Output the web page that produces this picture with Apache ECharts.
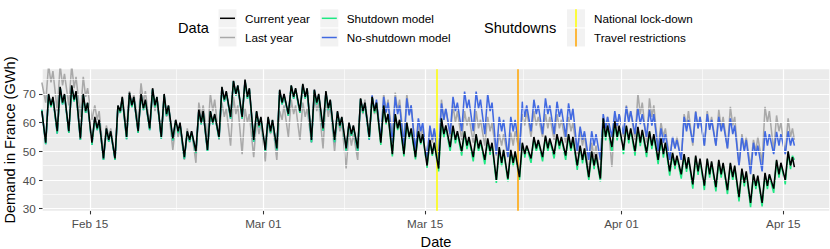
<!DOCTYPE html>
<html>
<head>
<meta charset="utf-8">
<script src="https://cdn.jsdelivr.net/npm/echarts@6/dist/echarts.min.js"></script>
<style>
html,body{margin:0;padding:0;background:#fff;}
#c{width:830px;height:249px;}
</style>
</head>
<body>
<div id="c"></div>
<script>
// ---------- data ----------
const tickLabels = ['Feb 15', 'Mar 01', 'Mar 15', 'Apr 01', 'Apr 15'];
const tickDates = [[2020, 1, 15], [2020, 2, 1], [2020, 2, 15], [2020, 3, 1], [2020, 3, 15]];
const yTickLabels = [30, 40, 50, 60, 70];
const eventNames = ['National lock-down', 'Travel restrictions'];
const eventDates = [[2020, 2, 16], [2020, 2, 23]];
// sample times: Feb 10 20:00, then each day Feb 11..Apr 15 at 04h (night low), 10h (morning peak),
// 15h (afternoon dip), 19h (evening peak), then Apr 15 23:00
const firstDay = [2020, 1, 11];
const dayCount = 65;
const sampleHours = [4, 10, 15, 19];

const currentYear = [64,
  53,70,66,69, 57,72.5,67,70, 57,73,68,71, 54.5,70,64,67,                 // Feb 11-14
  53,62,58,61, 47.5,58,54,57, 47.5,66,64,69, 55,70.5,66,69, 57,70,65,68,  // Feb 15-19
  58,72,66,69, 55,70,63,66, 54.5,61,57,60, 48,57,54,57, 50,64.5,60,64,    // Feb 20-24
  50.5,64,60,63, 55,72.5,68,71, 62,74.6,70,73, 62,75,69,72, 54,64,59,62,  // Feb 25-29
  50.5,62,57,61, 51,71.5,67,70, 63,73,69,72, 64,73.5,69,72,               // Mar 1-4
  54,71.5,67,70, 58,71,65,68, 54,64,59,62, 51,60,56,59, 51,68.5,64,67,    // Mar 5-9
  55,69,64,67, 53,66,60,63, 49,63,58,61, 49,60,55,58, 48,57,53,56,        // Mar 10-14
  45,54,49,53, 44,61.5,56,59, 51.5,59,54,57, 50,57,52,55, 48,56,51,54,    // Mar 15-19
  47,54.5,50,53, 40,51.5,46,50.5, 40.5,50.5,46,50, 41,53,49,52, 47.5,55,51,54, // Mar 20-24
  48,55.5,51,54.5, 49,56,52,55, 48.5,56,51,55, 45,52,47,51, 41,50,45,49,  // Mar 25-29
  40.5,61.5,55,59, 51.5,60.5,55,59,                                       // Mar 30-31
  50.5,59,54,58, 50,58.5,53,57.5, 49.5,57,52,56, 47,54.5,49,53,           // Apr 1-4
  43,49.5,45,48.5, 42,49,44,48, 38.5,48.5,43,47.5, 38,47.5,42,46.5, 37.5,47,42,46, // Apr 5-9
  36.5,46,41,45, 34,44,39,43, 32,42,38,41.5, 32,42.5,38,42, 37,47,42,46,  // Apr 10-14
  40,50,45,48,                                                            // Apr 15
  44.5];

const lastYear = [74,
  67,80,74,78, 64,80,73,77, 66,80,72,76, 62,76,69,72,
  61,66,61,64, 49,59,55,58, 48,66,64,69, 58,71,66,70, 60,73.7,67,71,
  59,70,64,68, 55,68,62,65, 50.5,59,55,58, 47,58,53,57, 46,67,62,66,
  55,70,64,68, 54,67,62,65, 52,69,63,66, 49,65,60,63, 48,61,56,60,
  46.5,60,56,60, 47,64,61,66, 55,68,63,66, 54,67,62,65,
  53,70,64,67, 51,68,62,66, 50,62,57,60, 44,57,52,56, 47,66,63,68,
  55,69,63,67, 54,70,64,68, 55,70.5,64,68, 53,70,63,66, 50,59,55,58,
  48,58,53,57, 48,68,61,65, 55,66,60,64, 54,64,59,62, 53,64,58,61,
  52,62,57,60, 48.5,56,52,56, 48,56.5,52,57, 50,63,59,64, 55,64,59,62,
  55,63,58,62, 54,63,58,61, 53,62,57,60, 49,57,52,56, 42,53,48,52,
  40,58,56,62, 44.6,62,58,63,
  55,66,61,64, 54,70,63,67, 53,68.5,62,66, 51,60,55,58,
  47,55,51,55, 47,63,59,64, 52,64,58,62, 52,64,58,62, 52,64.5,58,62,
  51,65.5,59,62, 45,56,51,55, 44.6,54,50,55, 46,65.5,60,64, 50,62.5,57,60,
  49,61.5,55,58,
  54];

const shutdownModel = [64.5,
  52.5,69.8,65.4,68.6, 56.2,72.2,66.4,69.8, 56.4,72.6,67.4,70.6, 54,69.6,63.4,66.8,
  52.2,61.6,57.4,60.8, 47,57.8,53.4,56.8, 47,65.8,63.4,68.6, 54.2,70.2,65.4,68.8, 56.4,69.8,64.4,67.6,
  57.4,71.6,65.4,68.8, 54.4,69.6,62.4,65.8, 53.8,60.8,56.4,59.6, 47.4,56.8,53.4,56.6, 49.4,64.2,59.4,63.8,
  50,63.8,59.4,62.6, 54.4,72.2,67.4,70.6, 61.4,74.4,69.4,72.8, 61.4,74.6,68.4,71.6, 53.4,63.8,58.4,61.6,
  50,61.6,56.4,60.8, 50.4,71.2,66.4,69.6, 62.4,72.8,68.4,71.6, 63.4,73.2,68.4,71.8,
  53.2,71.2,66.4,69.6, 57.2,70.6,64.4,67.8, 53.2,63.6,58.4,61.8, 50.2,59.8,55.4,58.6, 50.2,68.2,63.4,66.8,
  54.2,68.8,63.4,66.6, 52.2,65.8,59.4,62.8, 48.2,62.6,57.4,60.8, 48.2,59.8,54.4,57.6, 47.2,56.8,52.4,55.6,
  44.2,53.6,48.4,52.8, 43,61,54.8,58.6, 50,58.6,52.8,56.4, 48.5,56.6,50.8,54.4, 46.5,55.6,49.8,53.6,
  45.5,54,48.8,52.6, 39,51,44.8,50.2, 39.5,50.2,44.8,49.6, 40,52.6,47.8,51.6, 46,54.6,49.8,53.6,
  46.5,55,49.8,54, 47.5,55.6,50.8,54.6, 47,55.6,49.8,54.4, 43.5,51.6,45.8,50.6, 40,49.6,43.8,48.6,
  39.5,61,53.8,58.6, 50,60,53.8,58.6,
  49,58.6,52.8,57.6, 48.5,58,51.8,57, 48,56.6,50.8,55.6, 45.5,54,47.8,52.6,
  41.5,49,43.8,48, 40.5,48.6,42.8,47.6, 37,48,41.8,47, 36.5,47,40.8,46, 36,46.6,40.8,45.6,
  35,45.6,39.8,44.6, 32.5,43.6,37.8,42.6, 30.5,41.6,36.8,41, 30.8,42,36.8,41.6, 35.5,46.6,40.8,45.6,
  38.5,49.6,43.8,48.4,
  47];

const noShutdownModel = [64.5,
  52.5,69.8,65.4,68.6, 56.2,72.2,66.4,69.8, 56.4,72.6,67.4,70.6, 54,69.6,63.4,66.8,
  52.2,61.6,57.4,60.8, 47,57.8,53.4,56.8, 47,65.8,63.4,68.6, 54.2,70.2,65.4,68.8, 56.4,69.8,64.4,67.6,
  57.4,71.6,65.4,68.8, 54.4,69.6,62.4,65.8, 53.8,60.8,56.4,59.6, 47.4,56.8,53.4,56.6, 49.4,64.2,59.4,63.8,
  50,63.8,59.4,62.6, 54.4,72.2,67.4,70.6, 61.4,74.4,69.4,72.8, 61.4,74.6,68.4,71.6, 53.4,63.8,58.4,61.6,
  50,61.6,56.4,60.8, 50.4,71.2,66.4,69.6, 62.4,72.8,68.4,71.6, 63.4,73.2,68.4,71.8,
  53.2,71.4,66.4,69.6, 57.2,70.6,64.4,67.8, 53.2,63.6,58.4,61.8, 50.2,59.8,55.4,58.6, 50.2,68.2,63.4,66.8,
  54,69.5,64,68, 54,69,63.5,67, 53,69,63,66, 52,68.5,62.5,66, 50,61.5,57,60,
  47,59,54,58, 47,66.7,61,65, 56,69,64,67, 57,70.8,65,68, 57,70.8,65,68,
  56,70,64,67, 49,62,57,61, 48,62,57,61, 50,67.3,62,66, 57,68,63,66,
  56,68.5,63,66, 56,67.3,62,65, 55,66.7,61,65, 50,58.6,54,57, 47,57,52,56,
  47,63,58,62, 55,64,59,63,
  56,65.6,60,64, 56,65,59.5,63, 55,64.5,59,63, 50,58,53,56,
  47,55,51,54, 47,62,57,61, 53,63.8,58,62, 52,63,57.5,61, 52,62,57,60,
  51,61.5,56,59, 45,55,50,54, 42,53,48.5,52, 43,57,52,56, 49,56.8,52,56,
  49,57,52,55,
  52];

// ---------- build ----------
const DAY = 86400000;
const utc = (a, h) => Date.UTC(a[0], a[1], a[2], h || 0);
const tickValues = tickDates.map(d => utc(d));
const eventValues = eventDates.map(d => utc(d));
const times = [Date.UTC(2020, 1, 10, 20)];
for (let i = 0; i < dayCount; i++) {
  for (const h of sampleHours) times.push(Date.UTC(firstDay[0], firstDay[1], firstDay[2] + i, h));
}
times.push(Date.UTC(2020, 3, 15, 23));
const pair = arr => times.map((t, i) => [t, arr[i]]);

const minorX = [];
for (let i = 0; i < tickValues.length - 1; i++) minorX.push((tickValues[i] + tickValues[i + 1]) / 2);
const minorY = [35, 45, 55, 65, 75];

const xMin = tickValues[0] - 4.093 * DAY;
const xMax = tickValues[0] + 63.98 * DAY;

const FONT = 'Liberation Sans, Arial, Helvetica, sans-serif';
const COLORS = {
  'Current year': '#000000',
  'Last year': '#A9A9A9',
  'Shutdown model': '#1EE883',
  'No-shutdown model': '#4169E1'
};
const EVENT_COLORS = ['#FFFF00', '#FFA500'];

const gridLines = [];
tickValues.forEach(v => gridLines.push({ xAxis: v, lineStyle: { color: '#FFFFFF', width: 1.2, type: 'solid' } }));
minorX.forEach(v => gridLines.push({ xAxis: v, lineStyle: { color: '#FFFFFF', width: 0.6, type: 'solid' } }));
yTickLabels.forEach(v => gridLines.push({ yAxis: v, lineStyle: { color: '#FFFFFF', width: 1.2, type: 'solid' } }));
minorY.forEach(v => gridLines.push({ yAxis: v, lineStyle: { color: '#FFFFFF', width: 0.6, type: 'solid' } }));

const lineSeries = (name, arr, z) => ({
  type: 'line', name: name, data: pair(arr), z: z,
  symbol: 'none', showSymbol: false, clip: true,
  lineStyle: { width: 1.55, color: COLORS[name] }, itemStyle: { color: COLORS[name] },
  emphasis: { disabled: true }
});

const txt = (x, y, s, size) => ({
  type: 'text', x: x, y: y, silent: true,
  style: { text: s, fontFamily: FONT, fontSize: size, fill: '#000', verticalAlign: 'middle', align: 'left' }
});
const keyRect = (x, y) => ({ type: 'rect', silent: true, shape: { x: x, y: y, width: 18, height: 18 }, style: { fill: '#F2F2F2' } });
const hLine = (x, y, c) => ({ type: 'line', silent: true, shape: { x1: x + 1.5, y1: y + 9, x2: x + 16.5, y2: y + 9 }, style: { stroke: c, lineWidth: 1.5 } });
const vLine = (x, y, c) => ({ type: 'line', silent: true, shape: { x1: x + 9, y1: y, x2: x + 9, y2: y + 18 }, style: { stroke: c, lineWidth: 1.5 } });

const dataNames = ['Current year', 'Last year', 'Shutdown model', 'No-shutdown model'];
const legendCols = [[218.5, 245], [320.3, 346.7]];
const rowsY = [9.3, 28.5];
const graphics = [txt(178, 28.3, 'Data', 14.6), txt(484, 28.3, 'Shutdowns', 14.6)];
dataNames.forEach((n, i) => {
  const col = legendCols[Math.floor(i / 2)], ry = rowsY[i % 2];
  graphics.push(keyRect(col[0], ry), hLine(col[0], ry, COLORS[n]), txt(col[1], ry + 9, n, 11.7));
});
eventNames.forEach((n, i) => {
  const ry = rowsY[i];
  graphics.push(keyRect(567, ry), vLine(567, ry, EVENT_COLORS[i]), txt(594, ry + 9, n, 11.7));
});
// y-axis title, centred on the panel
graphics.push({
  type: 'text', x: 10, y: 140, rotation: Math.PI / 2, silent: true,
  style: { text: 'Demand in France (GWh)', fontFamily: FONT, fontSize: 14.6, fill: '#000', align: 'center', verticalAlign: 'middle' }
});

const option = {
  animation: false,
  backgroundColor: '#FFFFFF',
  grid: { left: 42.7, right: 0.7, top: 69.3, bottom: 38.3, show: true, backgroundColor: '#EBEBEB', borderWidth: 0,
          containLabel: false, outerBoundsMode: 'none' },
  xAxis: {
    type: 'value', min: xMin, max: xMax, scale: true,
    name: 'Date', nameLocation: 'middle', nameGap: 23,
    nameTextStyle: { fontFamily: FONT, fontSize: 14.6, color: '#000' },
    axisLine: { show: false },
    axisTick: { show: true, customValues: tickValues, length: 3.7, lineStyle: { color: '#333333', width: 1.07 } },
    axisLabel: {
      show: true, customValues: tickValues, margin: 6.6, color: '#4D4D4D', fontFamily: FONT, fontSize: 11.7,
      hideOverlap: false, showMinLabel: true, showMaxLabel: true,
      formatter: v => { const k = tickValues.indexOf(+v); return k >= 0 ? tickLabels[k] : ''; }
    },
    splitLine: { show: false }
  },
  yAxis: {
    type: 'value', min: 29.3, max: 78.6, scale: true,
    axisLine: { show: false },
    axisTick: { show: true, customValues: yTickLabels, length: 3.7, lineStyle: { color: '#333333', width: 1.07 } },
    axisLabel: { show: true, customValues: yTickLabels, margin: 7, color: '#4D4D4D', fontFamily: FONT, fontSize: 11.7, formatter: v => String(v) },
    splitLine: { show: false }
  },
  series: [
    { type: 'line', name: 'grid', data: [], z: 1, silent: true,
      markLine: { silent: true, symbol: ['none', 'none'], animation: false, label: { show: false }, emphasis: { disabled: true }, data: gridLines } },
    lineSeries('Last year', lastYear, 2),
    lineSeries('No-shutdown model', noShutdownModel, 3),
    lineSeries('Shutdown model', shutdownModel, 4),
    lineSeries('Current year', currentYear, 5),
    { type: 'line', name: 'events', data: [], z: 10, silent: true,
      markLine: { silent: true, symbol: ['none', 'none'], animation: false, label: { show: false }, emphasis: { disabled: true },
        data: eventValues.map((v, i) => ({ xAxis: v, lineStyle: { color: EVENT_COLORS[i], width: 1.5, type: 'solid' } })) } }
  ],
  graphic: graphics
};

const chart = echarts.init(document.getElementById('c'), null, { renderer: 'svg', width: 830, height: 249 });
chart.setOption(option);
</script>
</body>
</html>
